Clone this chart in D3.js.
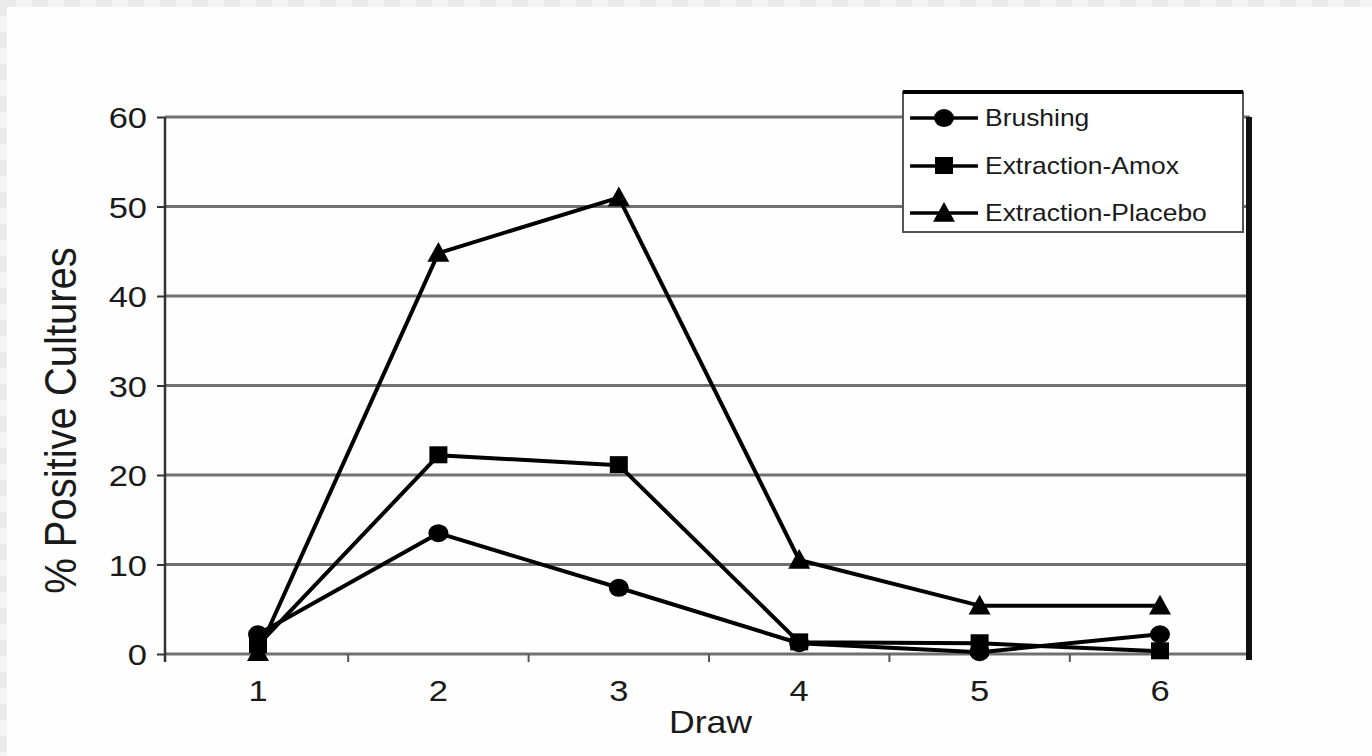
<!DOCTYPE html>
<html>
<head>
<meta charset="utf-8">
<script src="https://cdn.jsdelivr.net/npm/d3@7"></script>
<style>
  html, body { margin: 0; padding: 0; background: #ffffff; }
  svg { display: block; }
  text { font-family: "Liberation Sans", Arial, Helvetica, sans-serif; fill: #1a1a1a; }
</style>
</head>
<body>
<svg id="chart" width="1372" height="756"></svg>
<script>
// ---- data ----
const categories = ["1", "2", "3", "4", "5", "6"];
const brushing = [2.2, 13.5, 7.4, 1.2, 0.2, 2.2];
const extractionAmox = [1.0, 22.2, 21.1, 1.3, 1.2, 0.3];
const extractionPlacebo = [0.2, 44.8, 51.0, 10.5, 5.4, 5.4];
const seriesNames = ["Brushing", "Extraction-Amox", "Extraction-Placebo"];
const yTicks = [0, 10, 20, 30, 40, 50, 60];
const xTitle = "Draw";
const yTitle = "% Positive Cultures";

const seriesList = [
  { name: seriesNames[0], values: brushing, shape: "circle" },
  { name: seriesNames[1], values: extractionAmox, shape: "square" },
  { name: seriesNames[2], values: extractionPlacebo, shape: "triangle" }
];

// ---- layout ----
const W = 1372, H = 756;
const plot = { left: 165, right: 1250, top: 117, bottom: 654 };
const SX = 1.15; // horizontal stretch of the original raster

const svg = d3.select("#chart");

// checkered page background strip
const defs = svg.append("defs");
const pat = defs.append("pattern").attr("id", "checker")
  .attr("width", 32).attr("height", 32).attr("patternUnits", "userSpaceOnUse");
pat.append("rect").attr("width", 32).attr("height", 32).attr("fill", "#f4f4f4");
pat.append("rect").attr("x", 0).attr("y", 0).attr("width", 16).attr("height", 16).attr("fill", "#eaeaea");
pat.append("rect").attr("x", 16).attr("y", 16).attr("width", 16).attr("height", 16).attr("fill", "#eaeaea");
svg.append("rect").attr("width", W).attr("height", H).attr("fill", "url(#checker)");
svg.append("rect").attr("x", 7).attr("y", 7).attr("width", W - 7).attr("height", H - 7).attr("fill", "#fefefe");

// ---- scales ----
const x = d3.scalePoint().domain(categories).range([258, 1160]);
const y = d3.scaleLinear().domain([0, 60]).range([plot.bottom, plot.top]);

// gridlines (including the baseline)
svg.append("g").selectAll("line").data(yTicks).join("line")
  .attr("x1", plot.left).attr("x2", plot.right)
  .attr("y1", d => y(d)).attr("y2", d => y(d))
  .attr("stroke", "#707070").attr("stroke-width", 3);

// left axis
const yAxis = d3.axisLeft(y).tickValues(yTicks).tickSize(8).tickFormat("");
const gy = svg.append("g").attr("transform", `translate(${plot.left},0)`).call(yAxis);
gy.select(".domain").remove();
gy.selectAll(".tick line").attr("stroke", "#333").attr("stroke-width", 2);
svg.append("line").attr("x1", plot.left).attr("x2", plot.left)
  .attr("y1", plot.top).attr("y2", plot.bottom + 8)
  .attr("stroke", "#333").attr("stroke-width", 2.5);

// y tick labels (stretched)
svg.append("g").selectAll("g").data(yTicks).join("g")
  .attr("transform", d => `translate(${plot.left - 18},${y(d) + 11}) scale(${SX},1)`)
  .append("text").attr("text-anchor", "end").attr("font-size", 30).text(d => d);

// x minor ticks at category boundaries
const step = x.step();
const bounds = categories.slice(1).map(c => x(c) - step / 2);
svg.append("g").selectAll("line").data(bounds).join("line")
  .attr("x1", d => d).attr("x2", d => d)
  .attr("y1", plot.bottom).attr("y2", plot.bottom + 8)
  .attr("stroke", "#555").attr("stroke-width", 2);

// x tick labels
svg.append("g").selectAll("g").data(categories).join("g")
  .attr("transform", c => `translate(${x(c)},${plot.bottom + 47}) scale(${SX},1)`)
  .append("text").attr("text-anchor", "middle").attr("font-size", 30).text(c => c);

// axis titles
svg.append("g").attr("transform", `translate(${(plot.left + plot.right) / 2 + 3},${plot.bottom + 79}) scale(${SX},1)`)
  .append("text").attr("text-anchor", "middle").attr("font-size", 31).text(xTitle);
svg.append("g").attr("transform", `translate(76,${(plot.top + plot.bottom) / 2 + 35}) rotate(-90) scale(1,1.1)`)
  .append("text").attr("text-anchor", "middle").attr("font-size", 40).text(yTitle);

// right thick border
svg.append("line").attr("x1", plot.right - 1).attr("x2", plot.right - 1)
  .attr("y1", plot.top).attr("y2", plot.bottom + 6)
  .attr("stroke", "#111").attr("stroke-width", 6);

// ---- marker helper ----
function marker(g, shape, cx, cy) {
  if (shape === "circle") {
    g.append("ellipse").attr("cx", cx).attr("cy", cy).attr("rx", 10).attr("ry", 9).attr("fill", "#000");
  } else if (shape === "square") {
    g.append("rect").attr("x", cx - 9).attr("y", cy - 9).attr("width", 18).attr("height", 17).attr("fill", "#000");
  } else {
    const s = 11;
    g.append("path").attr("d", `M${cx},${cy - s} L${cx + s},${cy + s * 0.8} L${cx - s},${cy + s * 0.8} Z`).attr("fill", "#000");
  }
}

// ---- series ----
const line = d3.line().x((d, i) => x(categories[i])).y(d => y(d));
const gs = svg.append("g");
seriesList.forEach(s => {
  gs.append("path").attr("d", line(s.values)).attr("fill", "none")
    .attr("stroke", "#000").attr("stroke-width", 4).attr("stroke-linejoin", "round");
});
seriesList.forEach(s => {
  s.values.forEach((v, i) => marker(gs, s.shape, x(categories[i]), y(v)));
});

// ---- legend ----
const L = { x: 903, y: 92, w: 340, h: 140 };
const lg = svg.append("g");
lg.append("rect").attr("x", L.x).attr("y", L.y).attr("width", L.w).attr("height", L.h)
  .attr("fill", "#fff").attr("stroke", "#555").attr("stroke-width", 2);
lg.append("line").attr("x1", L.x).attr("x2", L.x + L.w).attr("y1", L.y).attr("y2", L.y)
  .attr("stroke", "#000").attr("stroke-width", 4);
const rowY = [118, 166, 213];
seriesList.forEach((s, i) => {
  lg.append("line").attr("x1", 910).attr("x2", 978).attr("y1", rowY[i]).attr("y2", rowY[i])
    .attr("stroke", "#000").attr("stroke-width", 3.5);
  marker(lg, s.shape, 944, rowY[i]);
  lg.append("g").attr("transform", `translate(985,${rowY[i] + 8}) scale(${SX},1)`)
    .append("text").attr("font-size", 23).text(s.name);
});
</script>
</body>
</html>
